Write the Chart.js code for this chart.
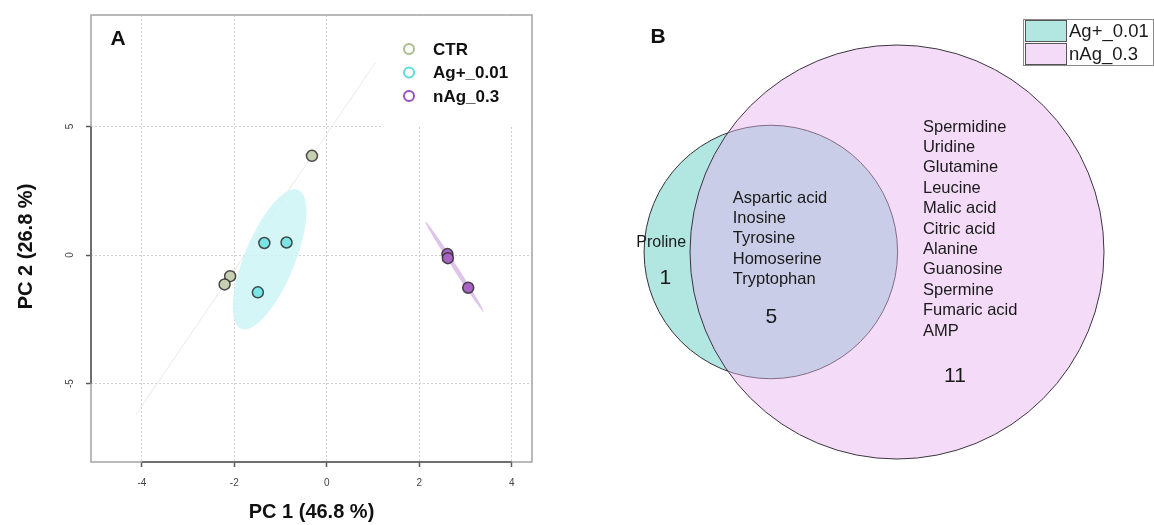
<!DOCTYPE html>
<html><head><meta charset="utf-8">
<script src="https://cdn.jsdelivr.net/npm/chart.js@4.4.1/dist/chart.umd.min.js"></script>
<style>
html,body{margin:0;padding:0;background:#fff;width:1154px;height:525px;overflow:hidden}
#a{position:absolute;left:0;top:0}
#b{position:absolute;left:577px;top:0}
</style></head><body>
<canvas id="a" width="577" height="525"></canvas>
<canvas id="b" width="577" height="525"></canvas>
<script>
// ---------- DATA: panel A (PCA scores) ----------
const groups = ['CTR', 'Ag+_0.01', 'nAg_0.3'];
const ctrX = [-0.32, -2.09, -2.21];
const ctrY = [3.86, -0.82, -1.14];
const agX  = [-1.35, -0.87, -1.49];
const agY  = [0.47, 0.49, -1.45];
const nagX = [2.61, 2.62, 3.06];
const nagY = [0.04, -0.12, -1.27];
const xTicks = [-4, -2, 0, 2, 4];
const yTicks = [-5, 0, 5];
const pc1Var = 46.8, pc2Var = 26.8;

// ---------- DATA: panel B (Venn) ----------
const vennSets = ['Ag+_0.01', 'nAg_0.3'];
const onlyAg = ['Proline'];
const shared = ['Aspartic acid', 'Inosine', 'Tyrosine', 'Homoserine', 'Tryptophan'];
const onlyNag = ['Spermidine', 'Uridine', 'Glutamine', 'Leucine', 'Malic acid', 'Citric acid',
                 'Alanine', 'Guanosine', 'Spermine', 'Fumaric acid', 'AMP'];

const FAM = "'Liberation Sans', Arial, sans-serif";
Chart.defaults.font.family = FAM;

// ---------- helpers ----------
const CHI2_95 = 5.991464547;
function ellipsePoints(xs, ys, n) {
  n = n || 120;
  const m = xs.length;
  const mx = xs.reduce((a, b) => a + b, 0) / m;
  const my = ys.reduce((a, b) => a + b, 0) / m;
  let sxx = 0, syy = 0, sxy = 0;
  for (let i = 0; i < m; i++) {
    sxx += (xs[i] - mx) ** 2; syy += (ys[i] - my) ** 2; sxy += (xs[i] - mx) * (ys[i] - my);
  }
  sxx /= (m - 1); syy /= (m - 1); sxy /= (m - 1);
  const tr = sxx + syy, det = sxx * syy - sxy * sxy;
  const disc = Math.sqrt(Math.max(tr * tr / 4 - det, 0));
  const l1 = tr / 2 + disc, l2 = Math.max(tr / 2 - disc, 0);
  const th = Math.abs(sxy) < 1e-12 ? (sxx >= syy ? 0 : Math.PI / 2) : Math.atan2(l1 - sxx, sxy);
  const c = Math.sqrt(CHI2_95), a = c * Math.sqrt(l1), b = c * Math.sqrt(l2);
  const pts = [];
  for (let i = 0; i < n; i++) {
    const t = 2 * Math.PI * i / n;
    const u = a * Math.cos(t), v = b * Math.sin(t);
    pts.push([mx + u * Math.cos(th) - v * Math.sin(th), my + u * Math.sin(th) + v * Math.cos(th)]);
  }
  return pts;
}
const toPts = (xs, ys) => xs.map((x, i) => ({x: x, y: ys[i]}));

// ---------- panel A ----------
const groupStyle = [
  {fill: '#c6cfb1', ring: '#a8bf8d', ell: 'rgba(232,228,224,0.45)'},
  {fill: '#7be4e4', ring: '#5fdcdc', ell: 'rgba(204,245,245,0.85)'},
  {fill: '#a864c4', ring: '#9c4fbe', ell: 'rgba(216,184,230,0.85)'}
];
const groupXs = [ctrX, agX, nagX], groupYs = [ctrY, agY, nagY];

const panelA = {
  id: 'panelA',
  beforeDatasetsDraw(chart) {
    const {ctx, chartArea: ca, scales: {x, y}} = chart;
    ctx.save();
    ctx.fillStyle = '#fff';
    ctx.fillRect(ca.right - 151, ca.top + 1, 150, 111);
    ctx.beginPath(); ctx.rect(ca.left, ca.top, ca.right - ca.left, ca.bottom - ca.top); ctx.clip();
    groupXs.forEach((xs, g) => {
      const pts = ellipsePoints(xs, groupYs[g]);
      ctx.beginPath();
      pts.forEach((p, i) => {
        const px = x.getPixelForValue(p[0]), py = y.getPixelForValue(p[1]);
        i ? ctx.lineTo(px, py) : ctx.moveTo(px, py);
      });
      ctx.closePath();
      ctx.fillStyle = groupStyle[g].ell;
      ctx.fill();
      if (g === 0) { ctx.strokeStyle = 'rgba(232,230,226,0.5)'; ctx.lineWidth = 1; ctx.stroke(); }
    });
    ctx.restore();
  },
  afterDraw(chart) {
    const {ctx, chartArea: ca, scales: {x, y}} = chart;
    ctx.save();
    // box
    ctx.strokeStyle = '#a3a3a3'; ctx.lineWidth = 1.5;
    ctx.strokeRect(ca.left, ca.top, ca.right - ca.left, ca.bottom - ca.top);
    // axis segments
    ctx.strokeStyle = '#5a5a5a'; ctx.lineWidth = 1.5;
    ctx.beginPath();
    ctx.moveTo(x.getPixelForValue(xTicks[0]), ca.bottom); ctx.lineTo(x.getPixelForValue(xTicks[xTicks.length - 1]), ca.bottom);
    ctx.moveTo(ca.left, y.getPixelForValue(yTicks[0])); ctx.lineTo(ca.left, y.getPixelForValue(yTicks[yTicks.length - 1]));
    ctx.stroke();
    // y tick labels (rotated, R style)
    ctx.fillStyle = '#444'; ctx.font = '10px ' + FAM;
    ctx.textAlign = 'center'; ctx.textBaseline = 'middle';
    y.ticks.forEach(t => {
      ctx.save();
      ctx.translate(ca.left - 20.5, y.getPixelForValue(t.value));
      ctx.rotate(-Math.PI / 2);
      ctx.fillText(String(t.value), 0, 0);
      ctx.restore();
    });
    // y axis title
    ctx.save();
    ctx.translate(26, (ca.top + ca.bottom) / 2 + 8);
    ctx.rotate(-Math.PI / 2);
    ctx.fillStyle = '#111'; ctx.font = 'bold 20px ' + FAM;
    ctx.fillText('PC 2 (' + pc2Var + ' %)', 0, 0);
    ctx.restore();
    // legend
    ctx.textAlign = 'left';
    chart.data.datasets.forEach((ds, i) => {
      const cy = ca.top + 34 + 23.5 * i;
      ctx.beginPath(); ctx.arc(ca.right - 123, cy, 5, 0, 2 * Math.PI);
      ctx.strokeStyle = groupStyle[i].ring; ctx.lineWidth = 2; ctx.stroke();
      ctx.fillStyle = '#111'; ctx.font = 'bold 17px ' + FAM;
      ctx.fillText(ds.label, ca.right - 99, cy + 1);
    });
    // panel letter
    ctx.font = 'bold 21px ' + FAM;
    ctx.textAlign = 'center'; ctx.fillStyle = '#111';
    ctx.fillText('A', ca.left + 27, ca.top + 24);
    ctx.restore();
  }
};

const gridOpts = {color: '#cfcfcf', lineWidth: 1, drawTicks: true,
                  tickLength: 5, tickColor: '#5a5a5a', tickWidth: 1.5, tickBorderDash: []};

new Chart(document.getElementById('a'), {
  type: 'scatter',
  data: {
    datasets: groups.map((g, i) => ({
      label: g,
      data: toPts(groupXs[i], groupYs[i]),
      backgroundColor: groupStyle[i].fill,
      borderColor: 'rgba(45,45,45,0.85)',
      borderWidth: 1.5,
      pointRadius: 5.5,
      pointHoverRadius: 5.5
    }))
  },
  options: {
    responsive: false, animation: false, devicePixelRatio: 1,
    layout: {padding: {left: 0, top: 15, right: 45, bottom: 0}},
    plugins: {legend: {display: false}, tooltip: {enabled: false}},
    scales: {
      x: {
        type: 'linear', min: -5.1, max: 4.44,
        afterBuildTicks: s => { s.ticks = xTicks.map(v => ({value: v})); },
        afterFit: s => { s.height = 63; },
        border: {display: false, dash: [2, 2]},
        grid: gridOpts,
        ticks: {color: '#444', font: {size: 10}, padding: 10, maxRotation: 0},
        title: {display: true, text: 'PC 1 (' + pc1Var + ' %)', color: '#111',
                font: {size: 20, weight: 'bold'}, padding: {top: 0, bottom: 1}}
      },
      y: {
        type: 'linear', min: -8.05, max: 9.34,
        afterBuildTicks: s => { s.ticks = yTicks.map(v => ({value: v})); },
        afterFit: s => { s.width = 91; },
        border: {display: false, dash: [2, 2]},
        grid: gridOpts,
        ticks: {display: false},
        title: {display: false}
      }
    }
  },
  plugins: [panelA]
});

// ---------- panel B (area-proportional Venn) ----------
const nAgOnly = onlyAg.length, nShared = shared.length, nNagOnly = onlyNag.length;
const totalAg = nAgOnly + nShared, totalNag = nShared + nNagOnly;
const rAg = Math.sqrt(totalAg / Math.PI), rNag = Math.sqrt(totalNag / Math.PI);
function lensArea(r1, r2, d) {
  if (d >= r1 + r2) return 0;
  if (d <= Math.abs(r1 - r2)) return Math.PI * Math.min(r1, r2) ** 2;
  return r1 * r1 * Math.acos((d * d + r1 * r1 - r2 * r2) / (2 * d * r1)) +
         r2 * r2 * Math.acos((d * d + r2 * r2 - r1 * r1) / (2 * d * r2)) -
         0.5 * Math.sqrt((-d + r1 + r2) * (d + r1 - r2) * (d - r1 + r2) * (d + r1 + r2));
}
let lo = Math.abs(rNag - rAg), hi = rAg + rNag;
for (let k = 0; k < 80; k++) {
  const mid = (lo + hi) / 2;
  if (lensArea(rAg, rNag, mid) > nShared) lo = mid; else hi = mid;
}
const dCenters = (lo + hi) / 2;

const PXU = 207 / rNag; // pixels per Venn unit
const vennColors = {ag: '#b2e6e0', nag: 'rgba(231,175,239,0.45)'};

const vennPlugin = {
  id: 'vennPlugin',
  beforeDatasetsDraw(chart) {
    const {ctx, scales: {x}} = chart;
    const unit = Math.abs(x.getPixelForValue(1) - x.getPixelForValue(0));
    ctx.save();
    // Ag+ first (underneath), then nAg translucent on top
    [1, 0].forEach(di => {
      const ds = chart.data.datasets[di];
      const el = chart.getDatasetMeta(di).data[0];
      const r = unit * Math.sqrt(ds.data[0].count / Math.PI);
      ctx.beginPath(); ctx.arc(el.x, el.y, r, 0, 2 * Math.PI);
      ctx.fillStyle = ds.circleFill; ctx.fill();
      ctx.strokeStyle = ds.circleStroke; ctx.lineWidth = 1; ctx.stroke();
    });
    ctx.restore();
  },
  afterDatasetsDraw(chart) {
    const {ctx, scales: {x, y}} = chart;
    ctx.save();
    ctx.fillStyle = '#1a1a1a';
    ctx.textBaseline = 'middle';
    const P = (ux, uy) => [x.getPixelForValue(ux), y.getPixelForValue(uy)];
    const step = 20.4;
    // Ag only
    ctx.font = '16px ' + FAM; ctx.textAlign = 'center';
    let p = P(-dCenters - 1.195, 0.098);
    onlyAg.forEach((t, i) => ctx.fillText(t, p[0], p[1] + i * step));
    ctx.font = '21px ' + FAM;
    p = P(-dCenters - 1.15, -0.283); ctx.fillText(String(nAgOnly), p[0], p[1]);
    // shared
    ctx.font = '16.5px ' + FAM; ctx.textAlign = 'left';
    p = P(-dCenters - 0.415, 0.589);
    shared.forEach((t, i) => ctx.fillText(t, p[0], p[1] + i * step));
    ctx.font = '21px ' + FAM; ctx.textAlign = 'center';
    p = P(-dCenters + 0.005, -0.709); ctx.fillText(String(nShared), p[0], p[1]);
    // nAg only
    ctx.font = '16.5px ' + FAM; ctx.textAlign = 'left';
    p = P(0.283, 1.363);
    onlyNag.forEach((t, i) => ctx.fillText(t, p[0], p[1] + i * step));
    ctx.font = '21px ' + FAM; ctx.textAlign = 'center';
    p = P(0.632, -1.352); ctx.fillText(String(nNagOnly), p[0], p[1]);
    ctx.restore();
  },
  afterDraw(chart) {
    const {ctx} = chart;
    ctx.save();
    // legend
    const lx = 446, ly = 19, sw = 42, sh = 23;
    ctx.fillStyle = '#fff'; ctx.fillRect(lx, ly, 131, 47);
    ctx.strokeStyle = '#8a8a8a'; ctx.lineWidth = 1; ctx.strokeRect(lx + 0.5, ly + 0.5, 130, 46);
    const swCols = [vennColors.ag, vennColors.nag];
    vennSets.forEach((s, i) => {
      const yy = ly + 1 + i * sh;
      ctx.fillStyle = swCols[i]; ctx.fillRect(lx + 2, yy, sw, sh - 1);
      ctx.strokeStyle = '#555'; ctx.strokeRect(lx + 2.5, yy + 0.5, sw - 1, sh - 2);
      ctx.fillStyle = '#1a1a1a'; ctx.font = '18.5px ' + FAM;
      ctx.textAlign = 'left'; ctx.textBaseline = 'middle';
      ctx.fillText(s, lx + sw + 4, yy + sh / 2);
    });
    // panel letter
    ctx.font = 'bold 21px ' + FAM; ctx.textAlign = 'center'; ctx.textBaseline = 'middle';
    ctx.fillStyle = '#111';
    ctx.fillText('B', 81, 37);
    ctx.restore();
  }
};

new Chart(document.getElementById('b'), {
  type: 'scatter',
  data: {
    datasets: [
      {label: vennSets[1], data: [{x: 0, y: 0, count: totalNag}],
       circleFill: vennColors.nag, circleStroke: '#3d3540',
       pointRadius: 0, pointHoverRadius: 0},
      {label: vennSets[0], data: [{x: -dCenters, y: 0, count: totalAg}],
       circleFill: vennColors.ag, circleStroke: '#333',
       pointRadius: 0, pointHoverRadius: 0}
    ]
  },
  options: {
    responsive: false, animation: false, devicePixelRatio: 1,
    layout: {padding: 0},
    plugins: {legend: {display: false}, tooltip: {enabled: false}},
    scales: {
      x: {display: false, min: -320 / PXU, max: 257 / PXU},
      y: {display: false, min: -273 / PXU, max: 252 / PXU}
    }
  },
  plugins: [vennPlugin]
});
</script>
</body></html>
